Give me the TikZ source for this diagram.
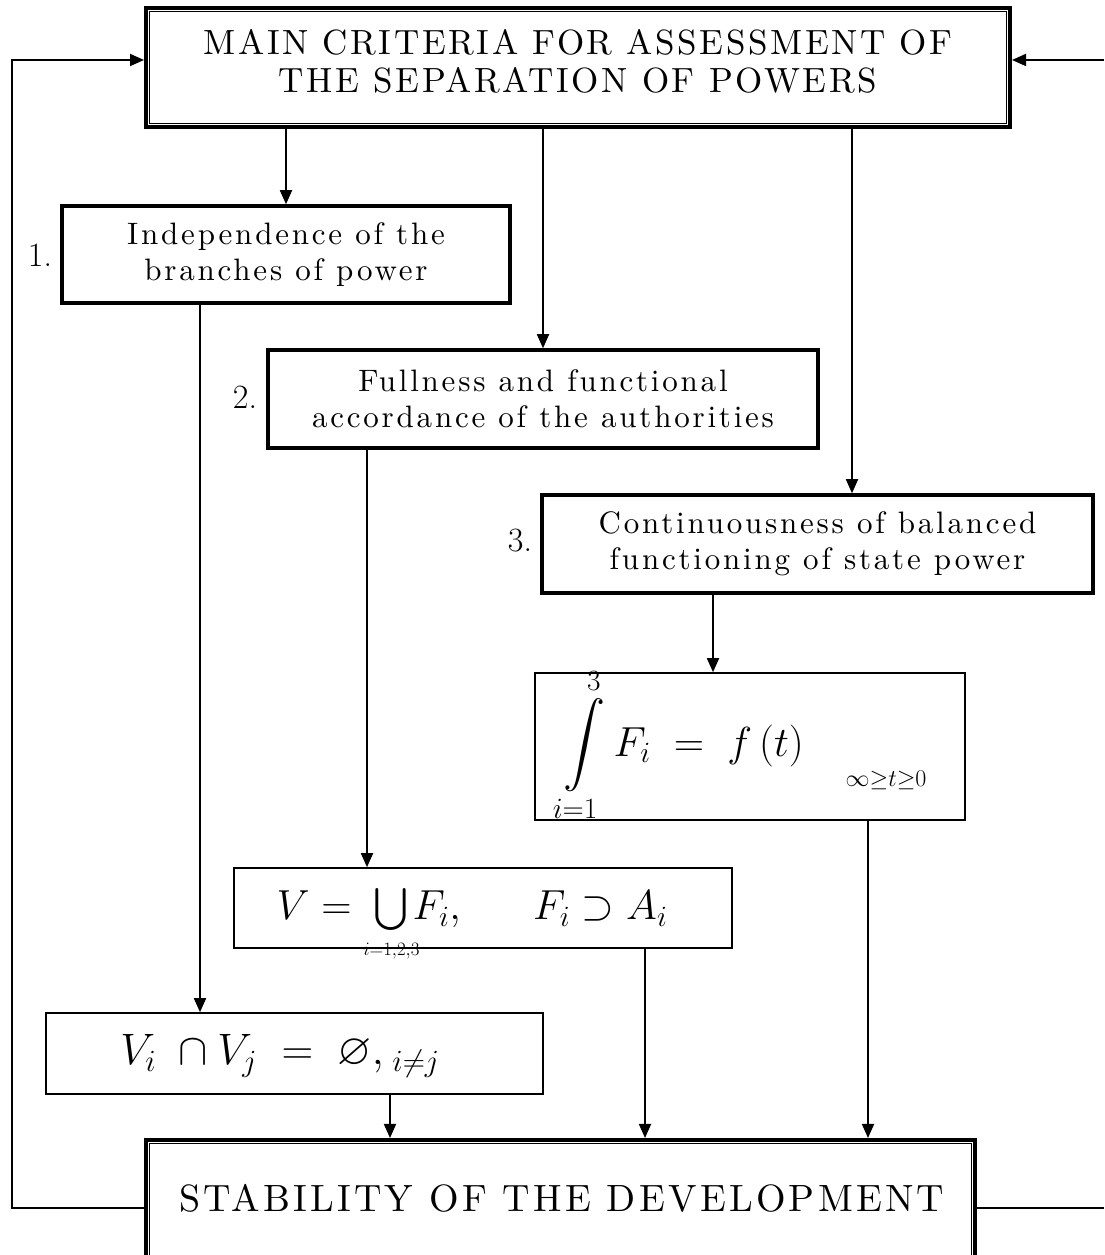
\RequirePackage{fix-cm}
\documentclass[tikz,border=0pt]{standalone}
\usepackage{amsmath}
\usepackage{amssymb}
\usepackage{fontspec}
\newfontfamily\boxfam{lmroman10-regular.otf}[LetterSpace=9]
\newfontfamily\ttlfam{lmroman10-regular.otf}[LetterSpace=7.4]
\newfontfamily\botfam{lmroman10-regular.otf}[LetterSpace=8.5]
\usetikzlibrary{arrows.meta}
\newcommand\ttlfont{\ttlfam\fontsize{35}{38}\selectfont}
\newcommand\bxfont{\boxfam\fontsize{31}{36}\selectfont}
\newcommand\nmfont{\fontsize{34}{34}\selectfont}
\newcommand\btfont{\botfam\fontsize{38}{42}\selectfont}
\newcommand\mthfont{\fontsize{42}{46}\selectfont}
\newcommand\vifont{\fontsize{44}{46}\selectfont}
\newcommand\smlfont{\fontsize{24}{28}\selectfont}
\begin{document}
\begin{tikzpicture}[x=1pt,y=1pt,
  thickbox/.style={draw, line width=3.5pt, inner sep=0pt, align=center, font=\bxfont},
  thinbox/.style={draw, line width=1.6pt, inner sep=0pt},
  dblbox/.style={draw, line width=4pt, inner sep=0pt},
  arr/.style={line width=1.8pt, -{Triangle[length=14pt,width=12pt]}},
  ln/.style={line width=1.8pt},
  num/.style={font=\nmfont, inner sep=0pt}]
\useasboundingbox (0,0) rectangle (1104,1255);
\clip (0,0) rectangle (1104,1255);
\fill[white] (0,0) rectangle (1104,1255);

% main boxes
\node[dblbox, minimum width=864pt, minimum height=119pt] (top) at (578,1187.5) {};
\draw[line width=1.5pt] ([shift={(5.5pt,-5.5pt)}]top.north west) rectangle ([shift={(-5.5pt,5.5pt)}]top.south east);
\node[font=\ttlfont, align=center, inner sep=0pt] (toptext) at (578,1194) {MAIN CRITERIA FOR ASSESSMENT OF\\THE SEPARATION OF POWERS};

\node[dblbox, minimum width=829pt, minimum height=119pt] (bot) at (560.5,55.5) {};
\draw[line width=1.5pt] ([shift={(5.5pt,-5.5pt)}]bot.north west) rectangle ([shift={(-5.5pt,5.5pt)}]bot.south east);
\node[font=\btfont, inner sep=0pt] (bottext) at (562,57) {STABILITY OF THE DEVELOPMENT};

\node[thickbox, minimum width=448pt, minimum height=97pt] (b1) at (286,1000.5) {Independence of the\\branches of power};
\node[thickbox, minimum width=550pt, minimum height=98pt] (b2) at (543,856) {Fullness and functional\\accordance of the authorities};
\node[thickbox, minimum width=551pt, minimum height=98pt] (b3) at (817.5,711) {Continuousness of balanced\\functioning of state power};

\node[num] (n1) at (40,1000) {1.};
\node[num] (n2) at (245,858) {2.};
\node[num] (n3) at (520,714) {3.};

% formula boxes
\node[thinbox, minimum width=430pt, minimum height=147pt] (int) at (750,508.5) {};
\node[inner sep=0pt, font=\mthfont] (intf) at (683,510) {$\displaystyle\int\limits_{i=1}^{3} F_i \;=\; f\,(t)$};
\node[inner sep=0pt, font=\smlfont] (intc) at (886,475) {$\infty{\geq}t{\geq}0$};

\node[thinbox, minimum width=498pt, minimum height=80pt] (vb) at (483,347) {};
\node[inner sep=0pt, font=\mthfont, anchor=base] (vbf) at (472,335) {$V=\mathop{\textstyle\bigcup}\limits_{\smash{\scalebox{0.9}{$\scriptscriptstyle i=1,2,3$}}}\!\!F_i,\quad\;\; F_i\supset A_i$};

\node[thinbox, minimum width=497pt, minimum height=81pt] (vi) at (294.5,201.5) {};
\node[inner sep=0pt, font=\vifont, anchor=base] (vif) at (280,190) {$V_i\;\cap V_j\;=\;\varnothing,_{\;i\neq j}$};

% guides
\coordinate (g1) at (200,0);
\coordinate (g2) at (367,0);
\coordinate (g3) at (713,0);
\coordinate (g4) at (390,0);
\coordinate (g5) at (645,0);
\coordinate (g6) at (868,0);
\coordinate (g7) at (852,0);
\coordinate (L) at (12,0);
\coordinate (ylow) at (0,47);
\coordinate (yhigh) at (0,1195);
\coordinate (R1) at (1104,1195);
\coordinate (R2) at (1104,47);

% connectors
\draw[arr] (top.south -| b1.north) -- (b1.north);
\draw[arr] (top.south -| b2.north) -- (b2.north);
\draw[arr] (top.south -| g7) -- (b3.north -| g7);
\draw[arr] (b1.south -| g1) -- (vi.north -| g1);
\draw[arr] (b2.south -| g2) -- (vb.north -| g2);
\draw[arr] (b3.south -| g3) -- (int.north -| g3);
\draw[arr] (vi.south -| g4) -- (bot.north -| g4);
\draw[arr] (vb.south -| g5) -- (bot.north -| g5);
\draw[arr] (int.south -| g6) -- (bot.north -| g6);
\draw[arr] (bot.west |- ylow) -| (L |- yhigh) -- (top.west |- yhigh);
\draw[arr] (R1) -- (top.east |- R1);
\draw[ln] (bot.east |- R2) -- (R2);
\end{tikzpicture}
\end{document}
